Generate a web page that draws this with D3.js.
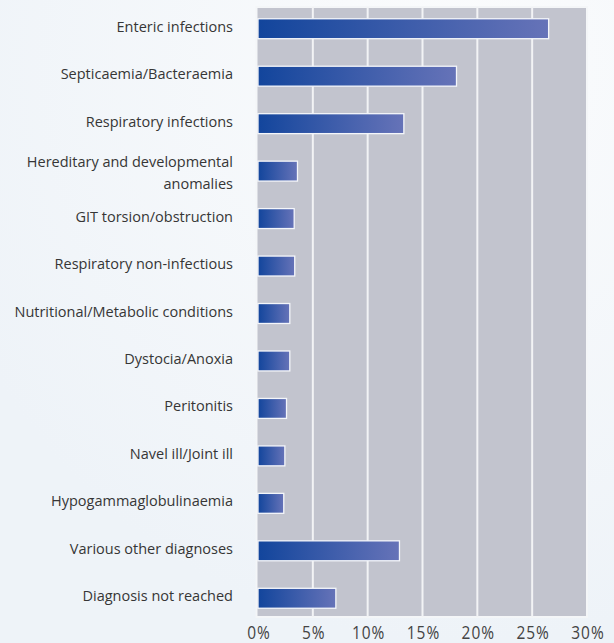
<!DOCTYPE html>
<html>
<head>
<meta charset="utf-8">
<script src="https://cdn.jsdelivr.net/npm/d3@7"></script>
<style>
  html, body { margin: 0; padding: 0; }
  body { width: 614px; height: 643px; overflow: hidden; }
  svg { display: block; }
</style>
</head>
<body>
<div class="chart-div"></div>
<script>
const categories = [
  ["Enteric infections"],
  ["Septicaemia/Bacteraemia"],
  ["Respiratory infections"],
  ["Hereditary and developmental", "anomalies"],
  ["GIT torsion/obstruction"],
  ["Respiratory non-infectious"],
  ["Nutritional/Metabolic conditions"],
  ["Dystocia/Anoxia"],
  ["Peritonitis"],
  ["Navel ill/Joint ill"],
  ["Hypogammaglobulinaemia"],
  ["Various other diagnoses"],
  ["Diagnosis not reached"]
];
const values = [26.5, 18.1, 13.3, 3.6, 3.3, 3.35, 2.9, 2.9, 2.6, 2.45, 2.35, 12.9, 7.1];
const ticks = [0, 5, 10, 15, 20, 25, 30];

const w = 614;
const h = 643;
const left = 258;
const right = 587;
const plotTop = 7;
const plotBottom = 617;

const svg = d3.select(".chart-div")
    .append("svg")
    .attr("width", w)
    .attr("height", h);

const defs = svg.append("defs");

const bg = defs.append("radialGradient")
    .attr("id", "bg")
    .attr("cx", "0.75").attr("cy", "0.1").attr("r", "0.9");
bg.append("stop").attr("offset", "0%").attr("stop-color", "#fbfcfd");
bg.append("stop").attr("offset", "100%").attr("stop-color", "#eef3f8");

const barGrad = defs.append("linearGradient")
    .attr("id", "bar")
    .attr("x1", "0").attr("x2", "1").attr("y1", "0").attr("y2", "0");
barGrad.append("stop").attr("offset", "0%").attr("stop-color", "#12459c");
barGrad.append("stop").attr("offset", "100%").attr("stop-color", "#6673b8");

svg.append("rect")
    .attr("width", w).attr("height", h)
    .attr("fill", "url(#bg)");

const x = d3.scaleLinear().domain([0, 30]).range([left, right]);
const y = d3.scaleBand()
    .domain(d3.range(categories.length))
    .range([5, 622])
    .paddingInner(0.58)
    .paddingOuter(0.29);

// plot area
svg.append("rect")
    .attr("x", left - 1.5)
    .attr("y", plotTop)
    .attr("width", right - left + 1.5)
    .attr("height", plotBottom - plotTop)
    .attr("fill", "#c2c4ce")
    .attr("stroke", "#f4f6f8")
    .attr("stroke-width", 2);

// gridlines
svg.append("g")
    .selectAll("line")
    .data(ticks.slice(1, -1)).enter()
    .append("line")
    .attr("x1", d => x(d)).attr("x2", d => x(d))
    .attr("y1", plotTop).attr("y2", plotBottom)
    .attr("stroke", "#f2f3f5")
    .attr("stroke-width", 2);

// bars
svg.append("g")
    .selectAll("rect")
    .data(values).enter()
    .append("rect")
    .attr("x", x(0))
    .attr("y", (d, i) => y(i))
    .attr("width", d => x(d) - x(0))
    .attr("height", y.bandwidth())
    .attr("fill", "url(#bar)")
    .attr("stroke", "#f4f6fa")
    .attr("stroke-width", 1.3);

// category labels (baseline a little under the bar centre)
const lineH = 22;
svg.append("g")
    .selectAll("text")
    .data(categories).enter()
    .append("text")
    .attr("text-anchor", "end")
    .attr("font-family", "'Open Sans', sans-serif")
    .attr("font-size", 14.5)
    .attr("fill", "#363636")
    .each(function (d, i) {
        const n = d.length;
        const base = y(i) + y.bandwidth() / 2 + 3 + (n - 1) * 4;
        d3.select(this).selectAll("tspan")
            .data(d).enter()
            .append("tspan")
            .attr("x", 233)
            .attr("y", (t, j) => base + (j - (n - 1) / 2) * lineH)
            .text(t => t);
    });

// x axis labels
svg.append("g")
    .selectAll("text")
    .data(ticks).enter()
    .append("text")
    .attr("transform", d => `translate(${x(d) + 1},638.5) scale(1,1.15)`)
    .attr("text-anchor", "middle")
    .attr("font-family", "'Open Sans', sans-serif")
    .attr("font-size", 15.5)
    .attr("letter-spacing", 1)
    .attr("fill", "#444")
    .text(d => d + "%");
</script>
</body>
</html>
